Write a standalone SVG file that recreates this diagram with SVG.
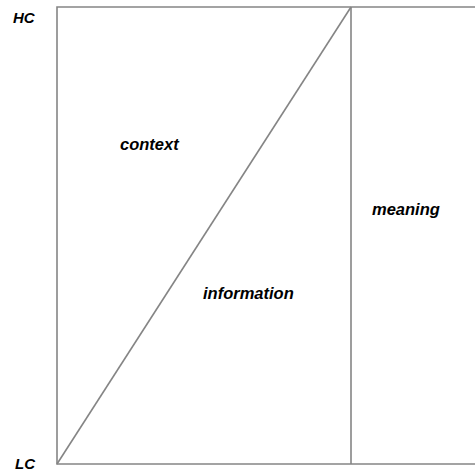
<svg xmlns="http://www.w3.org/2000/svg" width="475" height="472" viewBox="0 0 475 472">
<style>
.ln{stroke:#858585;stroke-width:1.6;fill:none}
.t{font-family:"Liberation Sans",Arial,sans-serif;font-weight:bold;font-style:italic;fill:#000}
</style>
<rect width="475" height="472" fill="#fff"/>
<g id="connectors">
<polyline class="ln" points="476,7 57,7 57,464 476,464"/>
<line class="ln" x1="351" y1="7" x2="351" y2="464"/>
<line class="ln" x1="57" y1="464" x2="351" y2="7"/>
</g>
<g id="hc"><text class="t" x="13" y="23" font-size="15">HC</text></g>
<g id="lc"><text class="t" x="15" y="469" font-size="15">LC</text></g>
<g id="context"><text class="t" x="120" y="150" font-size="16.5">context</text></g>
<g id="information"><text class="t" x="203" y="299" font-size="16.5">information</text></g>
<g id="meaning"><text class="t" x="372" y="215" font-size="16.5">meaning</text></g>
</svg>
